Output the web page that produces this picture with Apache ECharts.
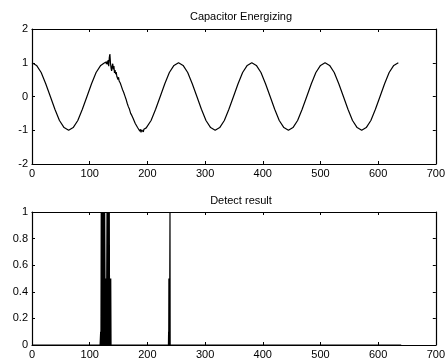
<!DOCTYPE html>
<html>
<head>
<meta charset="utf-8">
<script src="https://cdn.jsdelivr.net/npm/echarts@6/dist/echarts.min.js"></script>
<style>
  html, body { margin: 0; padding: 0; background: #fff; }
  #chart { width: 448px; height: 363px; }
</style>
</head>
<body>
<div id="chart"></div>
<script>
// values: [sample index, value]
const energizing = [
  [0, 1], [7.9, 0.92], [15.9, 0.71], [23.8, 0.38], [31.8, 0], [39.7, -0.38], [47.6, -0.71], [55.6, -0.92],
  [63.5, -1], [71.4, -0.92], [79.4, -0.71], [87.3, -0.38], [95.3, 0], [103.2, 0.38], [111.1, 0.71], [119.1, 0.92],
  [122, 0.96], [124, 0.98], [125, 0.93], [126, 0.99], [127, 0.94], [128, 1.02], [129, 0.96], [130, 1.04],
  [131, 0.95], [132, 1.08], [133, 0.9], [134, 1.15], [135, 1.26], [136, 1.0], [137, 0.85], [138, 0.76],
  [139, 0.9], [140, 0.97], [141, 0.8], [142, 0.9], [143, 0.7], [144, 0.78], [145, 0.66], [146, 0.72],
  [147, 0.6], [148, 0.64], [149, 0.5], [150, 0.57], [151, 0.46], [152, 0.5], [153, 0.4], [154, 0.44],
  [155, 0.3], [156, 0.34], [157, 0.2], [158, 0.25], [159, 0.12], [160, 0.15], [161, 0.02], [162, 0.05],
  [163, -0.08], [164, -0.04], [165, -0.2], [166, -0.16], [167, -0.3], [168, -0.25], [169, -0.38], [170, -0.35],
  [171, -0.5], [172, -0.46], [173, -0.56], [174, -0.53], [175, -0.64], [176, -0.6], [177, -0.72], [178, -0.68],
  [179, -0.8], [180, -0.76], [181, -0.86], [182, -0.82], [183, -0.92], [184, -0.88], [185, -0.97], [186, -0.93],
  [187, -1.03], [188, -0.97], [189, -1.06], [190, -0.99], [191, -1.04], [192, -0.98], [193, -1.05], [194, -0.97],
  [195, -1.02], [196, -0.96], [198, -0.93],
  [206.4, -0.71], [214.3, -0.38], [222.3, 0], [230.2, 0.38], [238.1, 0.71], [246.1, 0.92],
  [254, 1], [261.9, 0.92], [269.9, 0.71], [277.8, 0.38], [285.8, 0], [293.7, -0.38], [301.6, -0.71], [309.6, -0.92],
  [317.5, -1], [325.4, -0.92], [333.4, -0.71], [341.3, -0.38], [349.3, 0], [357.2, 0.38], [365.1, 0.71], [373.1, 0.92],
  [381, 1], [388.9, 0.92], [396.9, 0.71], [404.8, 0.38], [412.8, 0], [420.7, -0.38], [428.6, -0.71], [436.6, -0.92],
  [444.5, -1], [452.4, -0.92], [460.4, -0.71], [468.3, -0.38], [476.3, 0], [484.2, 0.38], [492.1, 0.71], [500.1, 0.92],
  [508, 1], [515.9, 0.92], [523.9, 0.71], [531.8, 0.38], [539.8, 0], [547.7, -0.38], [555.6, -0.71], [563.6, -0.92],
  [571.5, -1], [579.4, -0.92], [587.4, -0.71], [595.3, -0.38], [603.3, 0], [611.2, 0.38], [619.1, 0.71], [627.1, 0.92],
  [635, 1]
];

const detect = [
  [0, 0], [118, 0], [119, 0.1], [119.5, 0], [120, 1], [121, 0], [122, 1], [123, 0], [124, 1], [125, 0],
  [126, 1], [127, 0], [128, 0.5], [129, 0], [130, 1], [131, 0], [132, 1], [133, 0], [134, 1], [134.5, 0],
  [135, 0.5], [136, 0], [136.5, 0.5], [137, 0],
  [236.5, 0], [236.8, 0.1], [237, 0], [237.3, 0.5], [237.6, 0], [238, 0.5], [238.4, 0], [238.8, 0.5],
  [239.2, 1], [239.5, 0], [640, 0]
];

const titles = ["Capacitor Energizing", "Detect result"];
const xTicks = [0, 700, 100];       // min, max, step
const topY = [-2, 2, 1];
const bottomY = [0, 1, 0.2];

const font = "Liberation Sans";
const black = "#000";

const grids = [
  { left: 32, right: 9, top: 29, height: 135 },
  { left: 32, right: 9, top: 212, height: 133 },
];

const axisBase = (grid, pos, range, labels) => ({
  type: "value",
  gridIndex: grid,
  position: pos,
  min: range[0],
  max: range[1],
  interval: range[2],
  axisLine: { show: true, onZero: false, lineStyle: { color: black, width: 1.2 } },
  axisTick: { show: true, inside: true, length: 3, lineStyle: { color: black } },
  splitLine: { show: false },
  axisLabel: labels
    ? { show: true, color: black, fontFamily: font, fontSize: 11, margin: 4 }
    : { show: false },
});

const chart = echarts.init(document.getElementById("chart"));
chart.setOption({
  animation: false,
  backgroundColor: "#fff",
  title: [
    { text: titles[0], left: 236, top: 6, textAlign: "center",
      textStyle: { fontFamily: font, fontSize: 11, fontWeight: "normal", color: black } },
    { text: titles[1], left: 236, top: 190, textAlign: "center",
      textStyle: { fontFamily: font, fontSize: 11, fontWeight: "normal", color: black } },
  ],
  grid: grids,
  xAxis: [
    axisBase(0, "bottom", xTicks, true),
    axisBase(0, "top", xTicks, false),
    axisBase(1, "bottom", xTicks, true),
    axisBase(1, "top", xTicks, false),
  ],
  yAxis: [
    axisBase(0, "left", topY, true),
    axisBase(0, "right", topY, false),
    axisBase(1, "left", bottomY, true),
    axisBase(1, "right", bottomY, false),
  ],
  series: [
    {
      type: "line",
      xAxisIndex: 0,
      yAxisIndex: 0,
      data: energizing,
      showSymbol: false,
      lineStyle: { color: black, width: 1.2 },
    },
    {
      type: "line",
      xAxisIndex: 2,
      yAxisIndex: 2,
      data: detect,
      showSymbol: false,
      lineStyle: { color: black, width: 1.2 },
    },
  ],
});
</script>
</body>
</html>
